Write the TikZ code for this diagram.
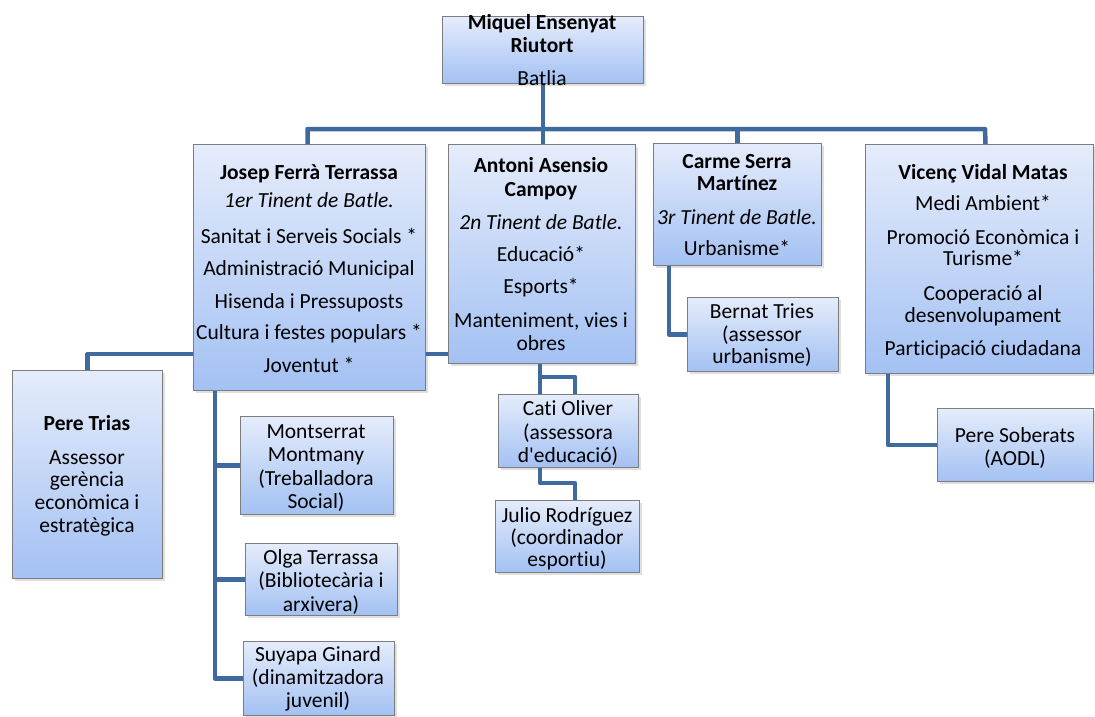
\documentclass[tikz,border=0pt]{standalone}
\usepackage{fontspec}
\setmainfont{Carlito}
\newfontfamily\calfont{Carlito}[Ligatures=NoCommon]
\usetikzlibrary{shadows}
\definecolor{conn}{RGB}{62,106,158}
\definecolor{boxtop}{RGB}{229,236,251}
\definecolor{boxbot}{RGB}{163,193,243}
\definecolor{boxline}{RGB}{125,125,125}
\tikzset{
  box/.style={draw=boxline, line width=1pt, top color=boxtop, bottom color=boxbot,
    drop shadow={shadow xshift=2pt, shadow yshift=-2pt, opacity=0.25},
    inner sep=0pt, anchor=north west},
  txt/.style={font=\calfont\fontsize{21.5}{25}\selectfont, inner sep=0pt, anchor=base, text=black},
  bt/.style={txt, font=\calfont\fontsize{21.5}{25}\selectfont\bfseries},
  it/.style={txt, font=\calfont\fontsize{21.5}{25}\selectfont\itshape},
  link/.style={draw=conn, line width=4.5pt, line join=round}
}
\begin{document}
\begin{tikzpicture}[x=1pt,y=-1pt]
\useasboundingbox (0,0) rectangle (1095,716);
% boxes
\node[box, minimum width=201pt, minimum height=67pt] (miquel) at (442,16) {};
\node[box, minimum width=232pt, minimum height=246pt] (josep) at (193,144) {};
\node[box, minimum width=187pt, minimum height=219pt] (antoni) at (448,144) {};
\node[box, minimum width=168pt, minimum height=122pt] (carme) at (653,143) {};
\node[box, minimum width=228pt, minimum height=229pt] (vicenc) at (865,144) {};
\node[box, minimum width=151pt, minimum height=74pt] (bernat) at (687,297) {};
\node[box, minimum width=156pt, minimum height=73pt] (soberats) at (937,408) {};
\node[box, minimum width=150pt, minimum height=208pt] (trias) at (12,370) {};
\node[box, minimum width=153pt, minimum height=98pt] (montserrat) at (240,416) {};
\node[box, minimum width=152pt, minimum height=72pt] (olga) at (245,543) {};
\node[box, minimum width=151pt, minimum height=74pt] (suyapa) at (243,641) {};
\node[box, minimum width=140pt, minimum height=73pt] (cati) at (498,394) {};
\node[box, minimum width=144pt, minimum height=72pt] (julio) at (495,500) {};

% helper coordinates
\coordinate (br) at (985,129);
\coordinate (yj) at (0,354);
\coordinate (jx) at (215,0);
\coordinate (cx) at (669,0);
\coordinate (vx) at (888,0);
\coordinate (ax) at (540,0);
\coordinate (bx) at (575,0);
\coordinate (ya) at (0,377);
\coordinate (yb) at (0,483);

% connectors
\draw[link] (miquel.south) -- (miquel.south |- antoni.north);
\draw[link] ([xshift=-2pt]josep.north) |- (br) -- ([xshift=6pt]vicenc.north);
\draw[link] (carme.north) -- (carme.north |- br);
\draw[link] (trias.north) |- (josep.west |- yj);
\draw[link] (josep.east |- yj) -- (antoni.west |- yj);
\draw[link] (josep.south -| jx) |- (suyapa.west);
\draw[link] (jx |- montserrat.west) -- (montserrat.west);
\draw[link] (jx |- olga.west) -- (olga.west);
\draw[link] (carme.south -| cx) |- (bernat.west);
\draw[link] (vicenc.south -| vx) |- (soberats.west);
\draw[link] (antoni.south -| ax) -- (cati.north -| ax);
\draw[link] (ax |- ya) -| (cati.north -| bx);
\draw[link] (cati.south -| ax) |- (bx |- yb) -- (julio.north -| bx);

% texts
\node[bt] (m1) at (542,29) {Miquel Ensenyat};
\node[bt] (m2) at (542,52) {Riutort};
\node[txt] (m3) at (542,85) {Batlia};

\node[bt] (j1) at (309,179) {Josep Ferrà Terrassa};
\node[it] (j2) at (309,207) {1er Tinent de Batle.};
\node[txt] (j3) at (309,243) {Sanitat i Serveis Socials *};
\node[txt] (j4) at (309,275) {Administració Municipal};
\node[txt] (j5) at (309,308) {Hisenda i Pressuposts};
\node[txt] (j6) at (309,339) {Cultura i festes populars *};
\node[txt] (j7) at (309,372) {Joventut *};

\node[bt] (a1) at (541,172) {Antoni Asensio};
\node[bt] (a2) at (541,196) {Campoy};
\node[it] (a3) at (541,229) {2n Tinent de Batle.};
\node[txt] (a4) at (541,261) {Educació*};
\node[txt] (a5) at (541,293) {Esports*};
\node[txt] (a6) at (541,327) {Manteniment, vies i};
\node[txt] (a7) at (541,350) {obres};

\node[bt] (c1) at (737,168) {Carme Serra};
\node[bt] (c2) at (737,190) {Martínez};
\node[it] (c3) at (737,224) {3r Tinent de Batle.};
\node[txt] (c4) at (737,255) {Urbanisme*};

\node[txt] (b1) at (762,318) {Bernat Tries};
\node[txt] (b2) at (762,341) {(assessor};
\node[txt] (b3) at (762,363) {urbanisme)};

\node[bt] (v1) at (983,179) {Vicenç Vidal Matas};
\node[txt] (v2) at (983,210) {Medi Ambient*};
\node[txt] (v3) at (983,244) {Promoció Econòmica i};
\node[txt] (v4) at (983,265) {Turisme*};
\node[txt] (v5) at (983,300) {Cooperació al};
\node[txt] (v6) at (983,322) {desenvolupament};
\node[txt] (v7) at (983,355) {Participació ciudadana};

\node[txt] (s1) at (1015,442) {Pere Soberats};
\node[txt] (s2) at (1015,465) {(AODL)};

\node[bt] (t1) at (87,430) {Pere Trias};
\node[txt] (t2) at (87,464) {Assessor};
\node[txt] (t3) at (87,486) {gerència};
\node[txt] (t4) at (87,509) {econòmica i};
\node[txt] (t5) at (87,532) {estratègica};

\node[txt] (mo1) at (316,438) {Montserrat};
\node[txt] (mo2) at (316,461) {Montmany};
\node[txt] (mo3) at (316,485) {(Treballadora};
\node[txt] (mo4) at (316,508) {Social)};

\node[txt] (o1) at (321,564) {Olga Terrassa};
\node[txt] (o2) at (321,587) {(Bibliotecària i};
\node[txt] (o3) at (321,611) {arxivera)};

\node[txt] (g1) at (318,661) {Suyapa Ginard};
\node[txt] (g2) at (318,684) {(dinamitzadora};
\node[txt] (g3) at (318,707) {juvenil)};

\node[txt] (k1) at (568,415) {Cati Oliver};
\node[txt] (k2) at (568,439) {(assessora};
\node[txt] (k3) at (568,462) {d'educació)};

\node[txt] (u1) at (567,522) {Julio Rodríguez};
\node[txt] (u2) at (567,544) {(coordinador};
\node[txt] (u3) at (567,566) {esportiu)};
\end{tikzpicture}
\end{document}
